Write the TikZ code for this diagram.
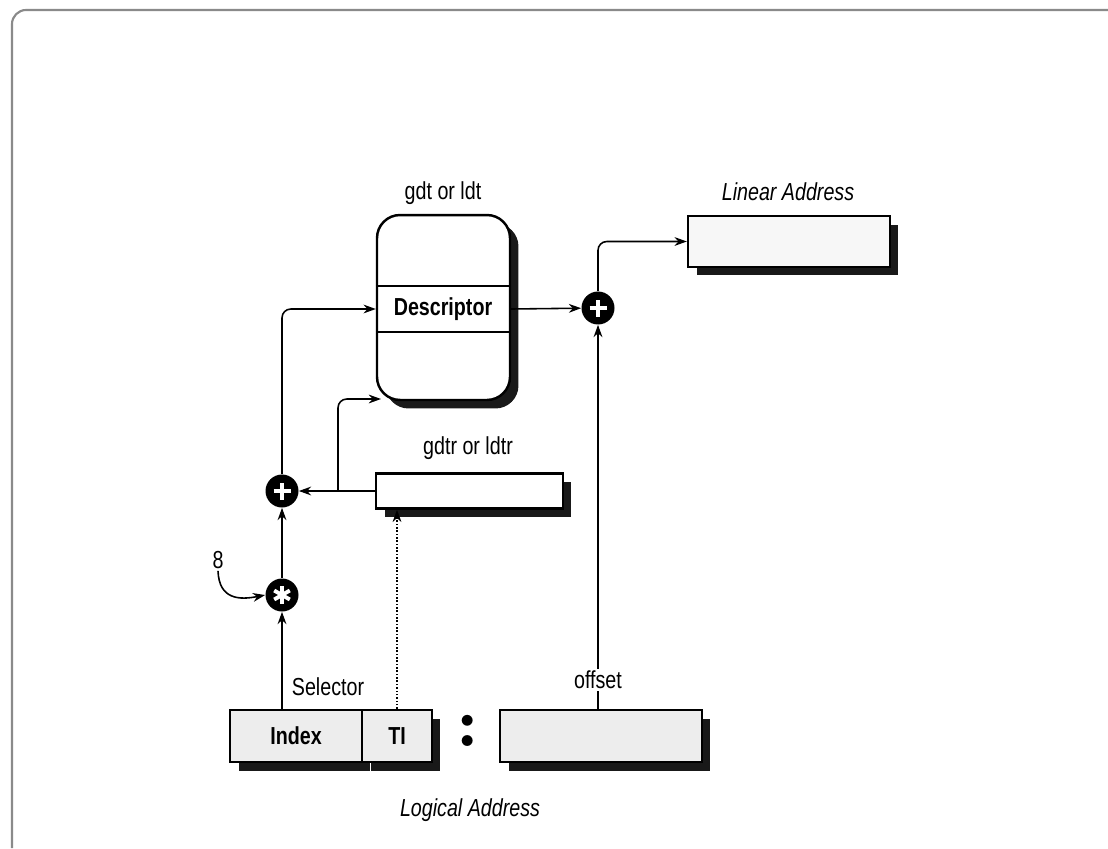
\documentclass[tikz,border=0pt]{standalone}
\usepackage{fontspec}
\setmainfont{Liberation Sans}[FakeStretch=0.8]
\newfontfamily\dotfont{lmroman10-bold.otf}
\usepackage{tikz}
\usetikzlibrary{arrows.meta,calc,positioning,shadows}
\definecolor{boxgray}{HTML}{EDEDED}
\definecolor{framegray}{HTML}{8A8A8A}
\newcommand{\figfont}{\fontsize{14}{16}\selectfont}

\begin{document}
\begin{tikzpicture}[>={Stealth[length=7pt,width=5pt]},x=0.02cm,y=-0.02cm,font=\figfont,
  conn/.style={->,line width=0.9pt,rounded corners=5pt},
  reg/.style={draw,line width=1.4pt,fill=white,minimum height=0.7cm,inner sep=0pt,
    drop shadow={shadow xshift=0.17cm,shadow yshift=-0.17cm,opacity=0.9,fill=black}},
  field/.style={reg,fill=boxgray,minimum height=1.04cm,font=\figfont\bfseries},
  op/.style={circle,fill=black,minimum size=0.66cm,inner sep=0pt},
  opplus/.style={op,path picture={
    \draw[white,line width=2.6pt] (path picture bounding box.center) ++(-0.17cm,0) -- ++(0.34cm,0);
    \draw[white,line width=2.6pt] (path picture bounding box.center) ++(0,-0.17cm) -- ++(0,0.34cm);}},
  opstar/.style={op,path picture={
    \foreach \a in {90,150,...,450}
      \draw[white,line width=2.2pt] (path picture bounding box.center) -- ++(\a:0.18cm);}},
  lbl/.style={inner sep=1pt}]
  \useasboundingbox (0,0) rectangle (1108,848);
  \draw[framegray,line width=1.2pt,rounded corners=8pt] (12,848) -- (12,10) -- (1108,10);

  \node[reg,rounded corners=0.46cm,minimum width=2.66cm,minimum height=3.7cm] (tbl) at (443.5,307.5) {};
  \node[lbl] (tblname) at (443,193) {gdt or ldt};
  \node[font=\figfont\bfseries] (desc) at (443,309) {Descriptor};
  \draw[line width=1.4pt] (tbl.west |- 0,286) -- (tbl.east |- 0,286);
  \draw[line width=1.4pt] (tbl.west |- 0,332) -- (tbl.east |- 0,332);

  \node[opplus] (addr) at (598,308) {};
  \node[reg,fill=black!3,minimum width=4.04cm,minimum height=1.02cm] (lin) at (789,241.5) {};
  \node[lbl,font=\figfont\itshape] (linname) at (788,192) {Linear Address};

  \node[reg,minimum width=3.74cm] (gdtr) at (469.5,491) {};
  \node[lbl] (gdtrname) at (468,448) {gdtr or ldtr};
  \node[opplus] (addl) at (282,491) {};
  \node[opstar] (mul) at (282,595) {};
  \node[lbl] (eight) at (218,560) {8};

  \node[field,minimum width=2.64cm] (idx) at (296,736) {Index};
  \node[field,minimum width=1.4cm] (ti) at (397,736) {TI};
  \node[font=\fontsize{40}{40}\selectfont\dotfont] (colon) at (468,731) {:};
  \node[field,minimum width=4.04cm] (off) at (601,736) {};
  \node[lbl] (sel) at (328,687) {Selector};
  \node[lbl] (offname) at (598,680) {offset};
  \node[lbl,font=\figfont\itshape] (logname) at (470,810) {Logical Address};

  \coordinate (br) at (338,491);
  \coordinate (tblfoot) at (381,399);
  \draw[conn] (idx.north -| mul) -- (mul);
  \draw[conn] (mul) -- (addl);
  \draw[conn] (addl) |- (tbl.west |- desc);
  \draw[conn] (gdtr) -- (addl);
  \draw[conn] (br) |- (tblfoot);
  \draw[conn,densely dotted] (ti.north) -- (ti.north |- gdtr.south);
  \draw[conn] (tbl.east |- desc) -- (addr);
  \draw[line width=0.9pt] (off.north -| addr) -- (offname);
  \draw[conn] (offname) -- (addr);
  \draw[conn] (addr) |- (lin.west);
  \draw[conn] (eight.south) .. controls (219,600) and (240,600) .. (mul.west);
\end{tikzpicture}
\end{document}
